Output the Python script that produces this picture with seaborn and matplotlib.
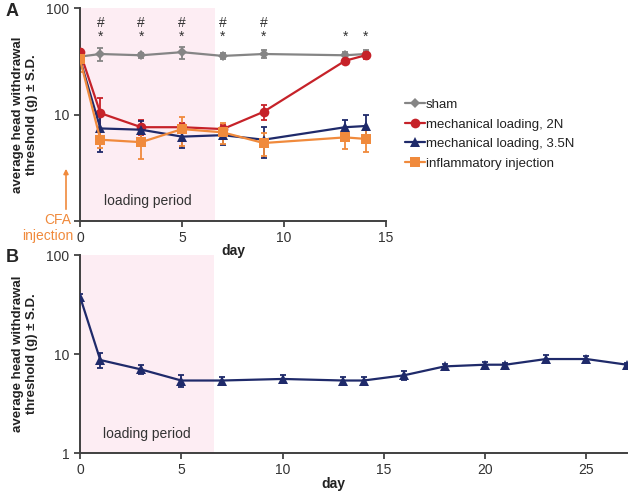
import numpy as np
import pandas as pd
import matplotlib
matplotlib.use('Agg')
import matplotlib.pyplot as plt
import seaborn as sns

# panel A data
days_a = [0, 1, 3, 5, 7, 9, 13, 14]
sham = [35, 37, 36, 38.5, 35.5, 37, 36, 37]
sham_sd = [3, 5.5, 2, 5, 2, 3, 3, 3]
load_2n = [38.5, 10.3, 7.6, 7.6, 7.3, 10.6, 32, 36]
load_2n_sd = [3, 4, 1.2, 0.8, 0.6, 1.8, 1.5, 3]
load_35n = [33, 7.4, 7.2, 6.2, 6.4, 5.8, 7.6, 7.8]
load_35n_sd = [3, 3, 1.5, 1.4, 1.2, 1.9, 1.3, 2]
inflam = [33, 5.8, 5.5, 7.3, 6.8, 5.4, 6.1, 5.9]
inflam_sd = [8, 1, 1.7, 2.2, 1.5, 1.3, 1.4, 1.5]
hash_days = [1, 3, 5, 7, 9]
star_days = [1, 3, 5, 7, 9, 13, 14]

# panel B data
days_b = [0, 1, 3, 5, 7, 10, 13, 14, 16, 18, 20, 21, 23, 25, 27]
long_35n = [38, 8.7, 7.0, 5.4, 5.4, 5.6, 5.4, 5.4, 6.1, 7.5, 7.8, 7.8, 8.9, 8.9, 7.8]
long_35n_sd = [2, 1.5, 0.7, 0.8, 0.4, 0.5, 0.5, 0.5, 0.6, 0.5, 0.5, 0.4, 0.8, 0.7, 0.3]

loading_end = 6.6

labels = ['sham', 'mechanical loading, 2N', 'mechanical loading, 3.5N', 'inflammatory injection']
colors = ['#858585', '#c62229', '#1f2a6a', '#f08a3c']
markers = ['D', 'o', '^', 's']
msizes = [5, 7, 6.5, 7]

sns.set_style('ticks')
plt.rcParams['font.family'] = ['Liberation Sans', 'DejaVu Sans']

fig = plt.figure(figsize=(6.36, 4.95), dpi=100)
ax_a = fig.add_axes([0.1258, 0.5535, 0.4811, 0.4303])
ax_b = fig.add_axes([0.1258, 0.0848, 0.86, 0.40])

spine_col = '#404040'

def style_axis(ax, xmax, xticks):
    ax.set_yscale('log')
    ax.set_ylim(1, 100)
    ax.set_xlim(0, xmax)
    ax.set_yticks([1, 10, 100])
    ax.set_yticklabels(['', '10', '100'] if ax is ax_a else ['1', '10', '100'])
    ax.yaxis.set_minor_locator(matplotlib.ticker.NullLocator())
    ax.set_xticks(xticks)
    ax.tick_params(labelsize=10, colors='#333333', length=4, width=1.2)
    for s in ['top', 'right']:
        ax.spines[s].set_visible(False)
    for s in ['left', 'bottom']:
        ax.spines[s].set_color(spine_col)
        ax.spines[s].set_linewidth(1.4)
    ax.axvspan(0, loading_end, color='#fdedf3', zorder=0, lw=0)
    ax.text(loading_end / 2, 0.06, 'loading period', transform=ax.get_xaxis_transform(),
            ha='center', va='bottom', fontsize=10, color='#333333')
    ax.set_ylabel('average head withdrawal\nthreshold (g) \u00b1 S.D.', fontsize=9.5,
                  fontweight='bold', color='#222222', labelpad=6)

# panel A
series = [(sham, sham_sd), (load_2n, load_2n_sd), (load_35n, load_35n_sd), (inflam, inflam_sd)]
for (vals, sd), lab, c, m, ms in zip(series, labels, colors, markers, msizes):
    df = pd.DataFrame({'day': days_a, 'value': vals})
    ax_a.errorbar(days_a, vals, yerr=sd, fmt='none', ecolor=c, elinewidth=1.3,
                  capsize=2.5, capthick=1.3, zorder=2)
    sns.lineplot(data=df, x='day', y='value', ax=ax_a, color=c, marker=m, markersize=ms,
                 markeredgewidth=0, linewidth=1.6, label=lab, zorder=3)

style_axis(ax_a, 15, [0, 5, 10, 15])
ax_a.set_xlabel('')
ax_a.get_legend().remove()

for d in hash_days:
    ax_a.text(d, 0.93, '#', transform=ax_a.get_xaxis_transform(), ha='center',
              va='center', fontsize=10, color='#333333')
for d in star_days:
    ax_a.text(d, 0.865, '*', transform=ax_a.get_xaxis_transform(), ha='center',
              va='center', fontsize=10, color='#333333')

handles, _ = ax_a.get_legend_handles_labels()
fig.legend(handles, labels, loc='upper left', bbox_to_anchor=(393 / 636, 1 - 87 / 495),
           frameon=False, fontsize=9.5, handlelength=1.5, handletextpad=0.1,
           labelspacing=0.55, labelcolor='#222222')

fig.text(233 / 636, 1 - 251 / 495, 'day', ha='center', va='center', fontsize=10,
         fontweight='bold', color='#222222')

# CFA injection marker
fig.text(58 / 636, 1 - 220 / 495, 'CFA', ha='center', va='center', fontsize=10,
         color='#f08a3c')
fig.text(73 / 636, 1 - 236 / 495, 'injection', ha='right', va='center', fontsize=10,
         color='#f08a3c')
fig.add_artist(matplotlib.patches.FancyArrowPatch(
    (66 / 636, 1 - 212 / 495), (66 / 636, 1 - 166 / 495), transform=fig.transFigure,
    arrowstyle='-|>', mutation_scale=7, color='#f08a3c', lw=1.2))

# panel B
df_b = pd.DataFrame({'day': days_b, 'value': long_35n})
ax_b.errorbar(days_b, long_35n, yerr=long_35n_sd, fmt='none', ecolor=colors[2],
              elinewidth=1.3, capsize=2.5, capthick=1.3, zorder=2)
sns.lineplot(data=df_b, x='day', y='value', ax=ax_b, color=colors[2], marker='^',
             markersize=6.5, markeredgewidth=0, linewidth=1.6, zorder=3)
style_axis(ax_b, 27, [0, 5, 10, 15, 20, 25])
ax_b.set_xlabel('')
fig.text(333 / 636, 1 - 484 / 495, 'day', ha='center', va='center', fontsize=10,
         fontweight='bold', color='#222222')

fig.text(6 / 636, 1 - 12 / 495, 'A', fontsize=13, fontweight='bold', va='center')
fig.text(6 / 636, 1 - 258 / 495, 'B', fontsize=13, fontweight='bold', va='center')

fig.savefig('out.png', dpi=100)
